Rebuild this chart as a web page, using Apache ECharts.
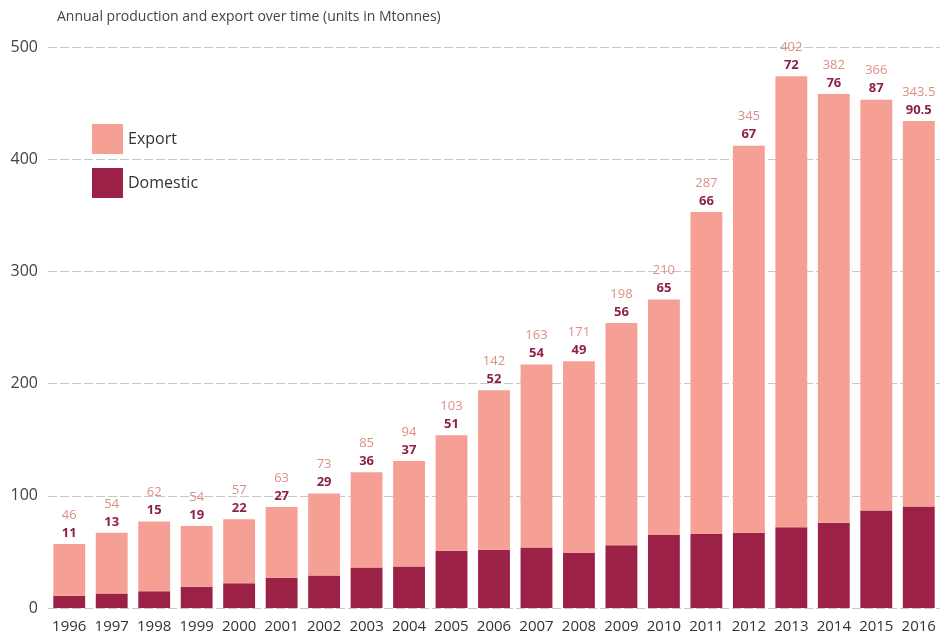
<!DOCTYPE html>
<html>
<head>
<meta charset="utf-8">
<script src="https://cdn.jsdelivr.net/npm/echarts@6/dist/echarts.min.js"></script>
<style>
  html, body { margin: 0; padding: 0; background: #fff; }
  #chart { width: 940px; height: 634px; }
</style>
</head>
<body>
<div id="chart"></div>
<script>
// data
const years = ['1996','1997','1998','1999','2000','2001','2002','2003','2004','2005','2006',
  '2007','2008','2009','2010','2011','2012','2013','2014','2015','2016']
const exportData = [46, 54, 62, 54, 57, 63, 73, 85, 94, 103, 142, 163, 171, 198, 210, 287, 345, 402, 382, 366, 343.5]
const domesticData = [11, 13, 15, 19, 22, 27, 29, 36, 37, 51, 52, 54, 49, 56, 65, 66, 67, 72, 76, 87, 90.5]
const yTicks = [0, 100, 200, 300, 400, 500]

const chart = echarts.init(document.getElementById('chart'))
const fontFamily = 'Open Sans, Noto Sans, sans-serif'

chart.setOption({
  animation: false,
  textStyle: { fontFamily: fontFamily },
  title: {
    text: 'Annual production and export over time (units in Mtonnes)',
    left: 52,
    top: 5,
    textStyle: { fontSize: 14, fontWeight: 'normal', color: '#444', fontFamily: fontFamily }
  },
  legend: {
    orient: 'vertical',
    left: 87,
    top: 119,
    icon: 'rect',
    itemWidth: 31,
    itemHeight: 30,
    itemGap: 14,
    data: ['Export', 'Domestic'],
    textStyle: { fontSize: 16, color: '#333' }
  },
  grid: {
    left: 48,
    right: -2,
    top: 47,
    bottom: 26
  },
  xAxis: {
    type: 'category',
    data: years,
    axisLine: { show: false },
    axisTick: { show: false },
    axisLabel: { color: '#333', fontSize: 15, margin: 11, interval: 0, hideOverlap: false }
  },
  yAxis: {
    type: 'value',
    min: yTicks[0],
    max: yTicks[yTicks.length - 1],
    interval: 100,
    axisLine: { show: false },
    axisTick: { show: false },
    axisLabel: { color: '#444', fontSize: 16, margin: 10 },
    splitLine: { lineStyle: { color: '#c8c8c8', type: [9, 3] } }
  },
  series: [
    {
      name: 'Domestic',
      type: 'bar',
      stack: 'total',
      barWidth: '75%',
      itemStyle: { color: '#9b2147' },
      data: domesticData
    },
    {
      name: 'Export',
      type: 'bar',
      stack: 'total',
      itemStyle: { color: '#f6a095' },
      label: {
        show: true,
        position: 'top',
        distance: 2,
        formatter: p => '{e|' + exportData[p.dataIndex] + '}\n{d|' + domesticData[p.dataIndex] + '}',
        rich: {
          e: { color: '#dc8f87', fontSize: 13, lineHeight: 18, fontFamily: fontFamily },
          d: { color: '#8e2148', fontSize: 13, fontWeight: 'bold', lineHeight: 18, fontFamily: fontFamily }
        }
      },
      data: exportData
    }
  ]
})
</script>
</body>
</html>
